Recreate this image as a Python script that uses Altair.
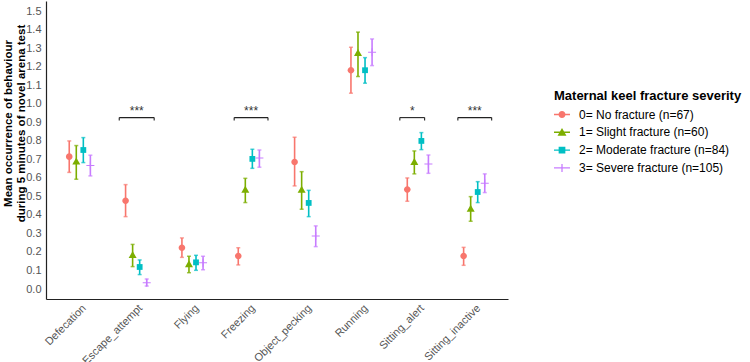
import altair as alt
import pandas as pd

behaviours = ["Defecation", "Escape_attempt", "Flying", "Freezing",
              "Object_pecking", "Running", "Sitting_alert", "Sitting_inactive"]
groups = ["0= No fracture (n=67)", "1= Slight fracture (n=60)",
          "2= Moderate fracture (n=84)", "3= Severe fracture (n=105)"]
colors = ["#F8766D", "#7CAE00", "#00BFC4", "#C77CFF"]

mean_g0 = [0.715, 0.477, 0.223, 0.178, 0.686, 1.182, 0.537, 0.178]
lo_g0 = [0.630, 0.391, 0.171, 0.130, 0.557, 1.058, 0.474, 0.128]
hi_g0 = [0.800, 0.564, 0.276, 0.223, 0.820, 1.306, 0.600, 0.225]

mean_g1 = [0.688, 0.182, 0.133, 0.535, 0.535, 1.274, 0.685, 0.432]
lo_g1 = [0.593, 0.121, 0.088, 0.467, 0.431, 1.148, 0.622, 0.366]
hi_g1 = [0.775, 0.241, 0.177, 0.598, 0.634, 1.388, 0.746, 0.499]

mean_g2 = [0.751, 0.119, 0.144, 0.703, 0.465, 1.182, 0.800, 0.524]
lo_g2 = [0.683, 0.078, 0.101, 0.652, 0.391, 1.112, 0.753, 0.467]
hi_g2 = [0.818, 0.157, 0.182, 0.755, 0.533, 1.250, 0.845, 0.580]

mean_g3 = [0.667, 0.034, 0.142, 0.708, 0.286, 1.279, 0.676, 0.571]
lo_g3 = [0.611, 0.016, 0.104, 0.658, 0.229, 1.207, 0.625, 0.521]
hi_g3 = [0.723, 0.054, 0.177, 0.751, 0.341, 1.351, 0.724, 0.622]

# significance brackets (xmin/xmax in category units, as in ggsignif)
br_xmin = [1.70, 3.74, 6.68, 7.71]
br_xmax = [2.32, 4.34, 7.12, 8.31]
br_y = [0.926, 0.926, 0.926, 0.926]
br_label = ["***", "***", "*", "***"]

y_ticks = [round(i * 0.1, 1) for i in range(16)]

means = [mean_g0, mean_g1, mean_g2, mean_g3]
lows = [lo_g0, lo_g1, lo_g2, lo_g3]
highs = [hi_g0, hi_g1, hi_g2, hi_g3]

rows = []
for gi, g in enumerate(groups):
    for ci, b in enumerate(behaviours):
        rows.append(dict(behaviour=b, cat=ci + 1, group=g, gi=gi,
                         mean=means[gi][ci], lo=lows[gi][ci], hi=highs[gi][ci]))
df = pd.DataFrame(rows)

br = pd.DataFrame(dict(xmin=br_xmin, xmax=br_xmax, y=br_y, label=br_label))

DODGE = 0.5
# custom symbols: unit 1 = sqrt(size)/2 px
shape_main = [
    "M-0.66,0A0.66,0.66,0,1,1,0.66,0A0.66,0.66,0,1,1,-0.66,0Z",
    "M0,-0.85L0.8,0.55L-0.8,0.55Z",
    "M-0.58,-0.58H0.58V0.58H-0.58Z",
    "M-0.8,-0.1H0.8V0.1H-0.8Z M-0.1,-0.8H0.1V0.8H-0.1Z",
]
bar = "M-1,-0.09H1V0.09H-1Z "
shape_legend = [
    bar + "M-0.44,0A0.44,0.44,0,1,1,0.44,0A0.44,0.44,0,1,1,-0.44,0Z",
    bar + "M0,-0.55L0.56,0.42L-0.56,0.42Z",
    bar + "M-0.42,-0.42H0.42V0.42H-0.42Z",
    bar + "M-0.08,-0.5H0.08V0.5H-0.08Z",
]

label_expr = "[" + ",".join("'%s'" % b for b in behaviours) + "][datum.value - 1]"

x_scale = alt.Scale(domain=[0.4, 8.6], nice=False, zero=False)
y_scale = alt.Scale(domain=[-0.054, 1.556], nice=False, zero=False)

x_axis = alt.Axis(values=list(range(1, 9)), labelExpr=label_expr, labelAngle=-45,
                  labelAlign="right", labelBaseline="top", labelFontSize=11,
                  labelColor="#555555", labelPadding=3, ticks=False, grid=False,
                  domainColor="#222222", domainWidth=1.2, title=None,
                  labelFont="Liberation Sans", labelOverlap=False, labelBound=False)
y_axis = alt.Axis(values=y_ticks, format=".1f", labelFontSize=11, labelColor="#555555",
                  labelPadding=5, ticks=False, grid=False, domainColor="#222222",
                  domainWidth=1.2, labelFont="Liberation Sans", labelOverlap=False,
                  title=["Mean occurrence of behaviour", "during 5 minutes of novel arena test"],
                  titleFontSize=11.5, titleFontWeight="bold", titleColor="black",
                  titleFont="Liberation Sans", titleAngle=270, titleAlign="center",
                  titleBaseline="top", titleX=-44, titleY=122, titleLineHeight=13)


def X(field):
    return alt.X(field, scale=x_scale, axis=x_axis)


def Y(field):
    return alt.Y(field, scale=y_scale, axis=y_axis)


col_nolegend = alt.Color("group:N", scale=alt.Scale(domain=groups, range=colors), legend=None)

base = alt.Chart(df).transform_calculate(
    xpos="datum.cat + (datum.gi - 1.5) * %f" % (DODGE / 4)
)

rules = base.mark_rule(strokeWidth=1.6).encode(
    x=X("xpos:Q"), y=Y("lo:Q"), y2="hi:Q", color=col_nolegend,
)
caps_lo = base.mark_tick(orient="horizontal", size=4, thickness=1.5).encode(
    x=X("xpos:Q"), y=Y("lo:Q"), color=col_nolegend)
caps_hi = base.mark_tick(orient="horizontal", size=4, thickness=1.5).encode(
    x=X("xpos:Q"), y=Y("hi:Q"), color=col_nolegend)
points = base.mark_point(filled=True, size=100, opacity=1, strokeWidth=0).encode(
    x=X("xpos:Q"), y=Y("mean:Q"), color=col_nolegend,
    shape=alt.Shape("group:N", scale=alt.Scale(domain=groups, range=shape_main), legend=None),
)

bchart = alt.Chart(br)
br_h = bchart.mark_rule(color="#222222", strokeWidth=1.1).encode(
    x=X("xmin:Q"), x2="xmax:Q", y=Y("y:Q"))
br_l = bchart.transform_calculate(y0="datum.y - 0.016").mark_rule(
    color="#222222", strokeWidth=1.1).encode(x=X("xmin:Q"), y=Y("y:Q"), y2="y0:Q")
br_r = bchart.transform_calculate(y0="datum.y - 0.016").mark_rule(
    color="#222222", strokeWidth=1.1).encode(x=X("xmax:Q"), y=Y("y:Q"), y2="y0:Q")
stars = bchart.transform_calculate(xc="(datum.xmin + datum.xmax) / 2", ys="datum.y + 0.014").mark_text(
    fontSize=12, color="#333333", baseline="alphabetic", font="Liberation Sans").encode(
    x=X("xc:Q"), y=Y("ys:Q"), text="label:N")

leg = alt.Legend(title="Maternal keel fracture severity", orient="none", legendX=508, legendY=89,
                 titleFontSize=13, titleFontWeight="bold", titleColor="black",
                 titleFont="Liberation Sans", titleLimit=300, labelLimit=300,
                 labelFontSize=12, labelColor="black",
                 labelFont="Liberation Sans", symbolSize=256, symbolStrokeWidth=0,
                 labelOffset=9, rowPadding=3.8, titlePadding=3.5, padding=0)

legend_layer = alt.Chart(df).transform_filter("false").mark_point(
    filled=True, opacity=1, strokeWidth=0, size=256).encode(
    x=X("cat:Q"), y=Y("mean:Q"),
    color=alt.Color("group:N", scale=alt.Scale(domain=groups, range=colors), legend=leg),
    shape=alt.Shape("group:N", scale=alt.Scale(domain=groups, range=shape_legend), legend=leg),
)

chart = alt.layer(rules, caps_lo, caps_hi, points, br_h, br_l, br_r, stars, legend_layer).resolve_scale(
    color="independent", shape="independent"
).properties(
    width=462, height=298,
    padding={"left": 46, "top": 1, "right": 242, "bottom": 63},
    autosize=alt.AutoSizeParams(type="none"),
    background="white",
).configure_view(stroke=None)

chart.save("out.html", embed_options={"renderer": "svg", "actions": False})
